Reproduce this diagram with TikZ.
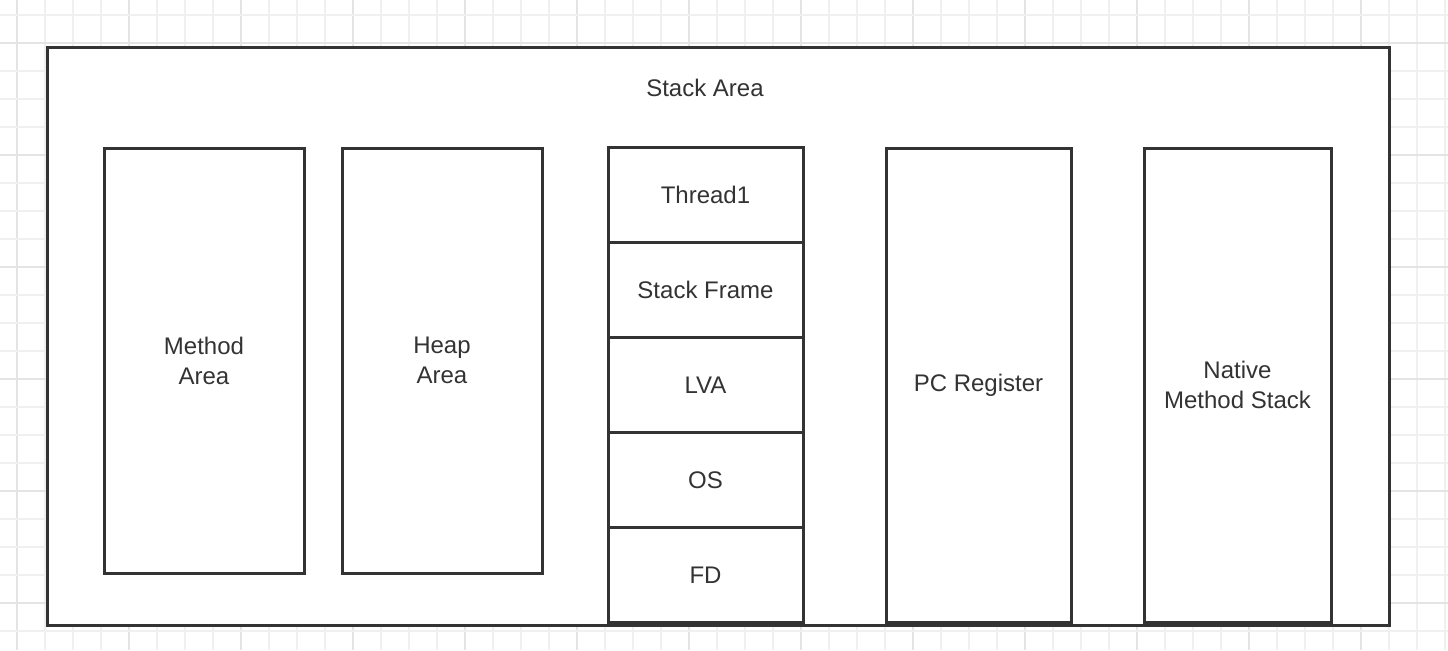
\documentclass[tikz,border=0pt]{standalone}
\usepackage{fontspec}
\setmainfont{Liberation Sans}
\usetikzlibrary{positioning}

\definecolor{ink}{HTML}{333333}
\definecolor{gridminor}{HTML}{F0F0F0}
\definecolor{gridmajor}{HTML}{E4E4E4}

\tikzset{
    area/.style={draw=ink, line width=1.5pt, fill=white, rectangle, inner sep=0pt,
        outer sep=0pt, text=ink, align=center, font=\fontsize{12}{15}\selectfont},
    cell/.style={area, minimum width=97.5pt, minimum height=47.5pt},
}

\begin{document}
\begin{tikzpicture}[x=0.5pt, y=-0.5pt]
            \useasboundingbox (0,0) rectangle (1448,650);

            % background grid
            \foreach \k in {0,...,51} {
                \pgfmathsetmacro{\gx}{17+28*\k}
                \ifnum\numexpr\k-4*(\k/4)\relax=0
                    \draw[gridmajor, line width=0.6pt] (\gx,0) -- (\gx,650);
                \else
                    \draw[gridminor, line width=0.6pt] (\gx,0) -- (\gx,650);
                \fi
            }
            \foreach \k in {0,...,22} {
                \pgfmathsetmacro{\gy}{15+28*\k}
                \draw[gridminor, line width=0.6pt] (0,\gy) -- (1448,\gy);
            }
            \foreach \gy in {43,155,267,379,491,603}
                \draw[gridmajor, line width=0.6pt] (0,\gy) -- (1448,\gy);

            % outer frame
            \node[area, minimum width=671pt, minimum height=289pt] (frame) at (718,336) {};
            \node[text=ink, font=\fontsize{12}{15}\selectfont] (title) at (705,88) {Stack Area};

            % areas
            \node[area, minimum width=100pt, minimum height=212.5pt] (method) at (204,360.5) {Method\\Area};
            \node[area, minimum width=100pt, minimum height=212.5pt] (heap) at (442,360.5) {Heap\\Area};

            % thread stack
            \node[cell] (thread) at (705.5,195) {Thread1};
            \node[cell, below=0pt of thread] (frameS) {Stack Frame};
            \node[cell, below=0pt of frameS] (lva) {LVA};
            \node[cell, below=0pt of lva] (os) {OS};
            \node[cell, below=0pt of os] (fd) {FD};

            \node[area, minimum width=92.5pt, minimum height=237pt] (pc) at (978.5,385) {PC Register};
            \node[area, minimum width=93.5pt, minimum height=237pt] (native) at (1237.5,385) {Native\\Method Stack};
        \end{tikzpicture}
\end{document}
